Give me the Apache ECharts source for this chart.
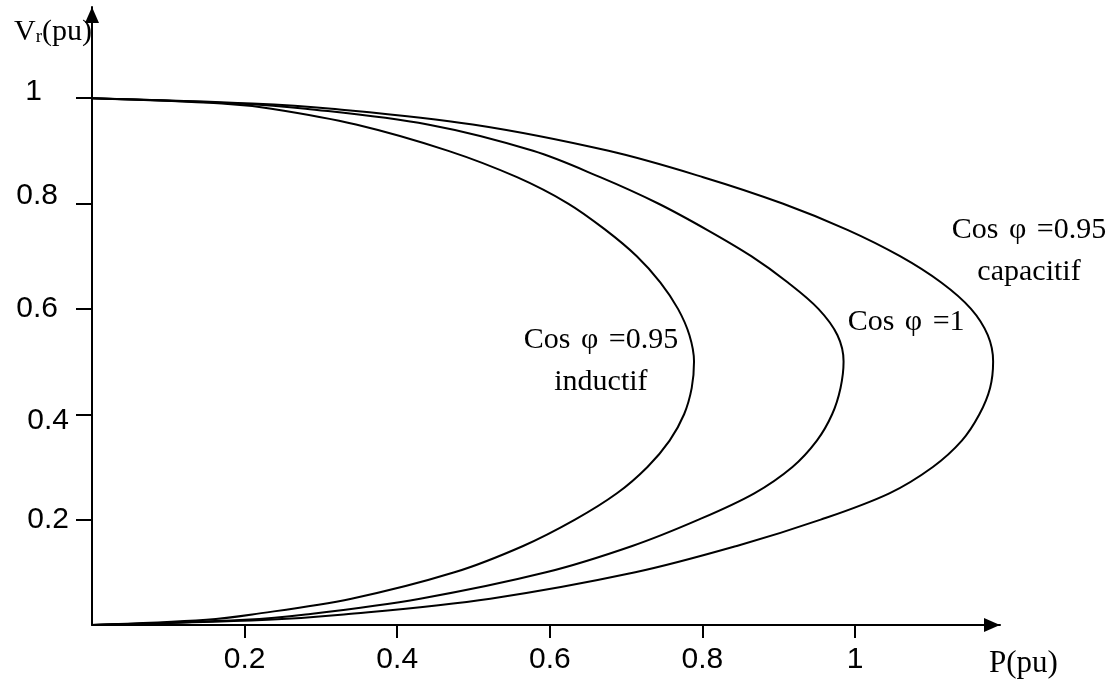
<!DOCTYPE html>
<html>
<head>
<meta charset="utf-8">
<script src="https://cdn.jsdelivr.net/npm/echarts@6/dist/echarts.min.js"></script>
<style>
  html, body { margin: 0; padding: 0; background: #ffffff; }
  #chart { width: 1116px; height: 686px; }
</style>
</head>
<body>
<div id="chart"></div>
<script>
// Receiving-end voltage (pu) sampled along each nose curve, top branch to bottom branch
const voltageLevels = [1, 0.99, 0.98, 0.95, 0.9, 0.85, 0.8, 0.75, 0.7, 0.65, 0.6, 0.55, 0.5,
                       0.45, 0.4, 0.35, 0.3, 0.25, 0.2, 0.15, 0.1, 0.05, 0.02, 0.01, 0];
// Active power (pu) transmitted at each voltage level
const powerInductive  = [0, 0.17, 0.235, 0.346, 0.467, 0.557, 0.624, 0.673, 0.714, 0.745, 0.768, 0.783, 0.789,
                         0.786, 0.776, 0.757, 0.728, 0.688, 0.633, 0.565, 0.475, 0.340, 0.21, 0.15, 0];
const powerUnity      = [0, 0.19, 0.28, 0.44, 0.578, 0.666, 0.742, 0.806, 0.864, 0.912, 0.952, 0.977, 0.985,
                         0.981, 0.970, 0.950, 0.918, 0.868, 0.795, 0.708, 0.595, 0.430, 0.28, 0.20, 0];
const powerCapacitive = [0, 0.21, 0.314, 0.499, 0.677, 0.801, 0.905, 0.990, 1.059, 1.113, 1.152, 1.174, 1.181,
                         1.177, 1.163, 1.140, 1.102, 1.045, 0.955, 0.845, 0.712, 0.522, 0.33, 0.23, 0];

// Tick values shown on both axes
const tickValues = [0.2, 0.4, 0.6, 0.8, 1];

// Curve captions (power factor, optional second line) and the (P, V) point each one is centred on
const noteValues = ['0.95', '1', '0.95'];
const noteSecondLines = ['inductif', '', 'capacitif'];
const noteP = [0.667, 1.067, 1.228];
const noteV = [0.501, 0.575, 0.710];

function curve(powers) {
  return powers.map(function (p, i) { return [p, voltageLevels[i]]; });
}

const serif = '"Liberation Serif", "Times New Roman", serif';
const sans = '"Liberation Sans", Arial, sans-serif';
const ink = '#000000';
const axisLine = {
  show: true,
  symbol: ['none', 'triangle'],
  symbolSize: [14, 16],
  symbolOffset: [0, -8],
  lineStyle: { color: ink, width: 2 }
};

// per-label nudges for the vertical axis values
const yLabelStyles = {
  a: { fontFamily: sans, fontSize: 30, color: ink, padding: [0, 27, 13, 0] },
  b: { fontFamily: sans, fontSize: 30, color: ink, padding: [0, 11, 16, 0] },
  c: { fontFamily: sans, fontSize: 30, color: ink, padding: [0, 11, 0, 0] },
  d: { fontFamily: sans, fontSize: 30, color: ink, padding: [13, 0, 0, 0] },
  e: { fontFamily: sans, fontSize: 30, color: ink }
};
const yLabelKey = { '1': 'a', '0.8': 'b', '0.6': 'c', '0.4': 'd', '0.2': 'e' };

const noteRich = {
  t: { fontFamily: serif, fontSize: 30, color: ink, lineHeight: 42, opacity: 1 },
  f: { fontFamily: serif, fontSize: 30, color: ink, lineHeight: 42, opacity: 1, padding: [0, 3, 0, 3] }
};

const chart = echarts.init(document.getElementById('chart'), null, { renderer: 'canvas' });

const lineSeries = function (name, powers) {
  return {
    name: name,
    type: 'line',
    data: curve(powers),
    showSymbol: false,
    smooth: 0.35,
    clip: false,
    silent: true,
    lineStyle: { color: ink, width: 2 }
  };
};

chart.setOption({
  animation: false,
  backgroundColor: '#ffffff',
  grid: { left: 92, right: 116, top: 7, bottom: 61 },
  xAxis: {
    type: 'value',
    min: 0,
    max: 1.19,
    name: '{p|P(pu)}',
    nameLocation: 'end',
    nameGap: -11,
    nameTextStyle: {
      align: 'left', verticalAlign: 'middle',
      rich: { p: { fontFamily: serif, fontSize: 31, color: ink, padding: [78, 0, 0, 0] } }
    },
    axisLine: axisLine,
    axisTick: { show: true, customValues: tickValues, length: 13, lineStyle: { color: ink, width: 2 } },
    axisLabel: {
      customValues: tickValues, margin: 20,
      fontFamily: sans, fontSize: 30, color: ink,
      formatter: function (v) { return String(v); }
    },
    splitLine: { show: false }
  },
  yAxis: {
    type: 'value',
    min: 0,
    max: 1.173,
    name: '{v|V}{s|r}{v|(pu)}',
    nameLocation: 'end',
    nameGap: -25,
    nameTextStyle: {
      align: 'right', verticalAlign: 'middle',
      rich: {
        v: { fontFamily: serif, fontSize: 30, color: ink, lineHeight: 30 },
        s: { fontFamily: serif, fontSize: 19, color: ink, lineHeight: 14, verticalAlign: 'bottom' }
      }
    },
    axisLine: axisLine,
    axisTick: { show: true, customValues: tickValues, length: 16, lineStyle: { color: ink, width: 2 } },
    axisLabel: {
      customValues: tickValues, margin: 23,
      fontFamily: sans, fontSize: 30, color: ink,
      formatter: function (v) {
        const t = String(v);
        return '{' + (yLabelKey[t] || 'e') + '|' + t + '}';
      },
      rich: yLabelStyles
    },
    splitLine: { show: false }
  },
  series: [
    lineSeries('inductif', powerInductive),
    lineSeries('unitaire', powerUnity),
    lineSeries('capacitif', powerCapacitive),
    {
      name: 'notes',
      type: 'scatter',
      symbolSize: 0,
      clip: false,
      silent: true,
      itemStyle: { opacity: 1, color: ink },
      data: noteP.map(function (p, i) {
        let text = '{t|Cos }{f|\u03c6}{t| =' + noteValues[i] + '}';
        if (noteSecondLines[i]) text += '\n{t|' + noteSecondLines[i] + '}';
        return { value: [p, noteV[i]], label: { formatter: text } };
      }),
      label: {
        show: true,
        position: 'inside',
        align: 'center',
        verticalAlign: 'middle',
        color: ink,
        opacity: 1,
        textBorderWidth: 0,
        rich: noteRich
      }
    }
  ]
});
</script>
</body>
</html>
